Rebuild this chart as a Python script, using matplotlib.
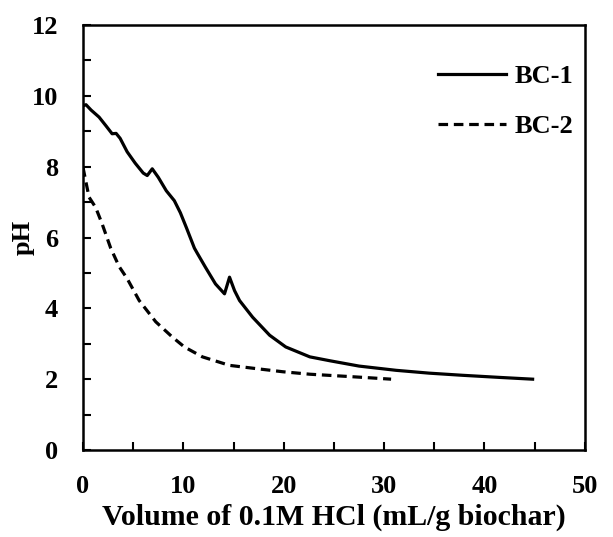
import numpy as np
import matplotlib.pyplot as plt
from matplotlib.ticker import MultipleLocator

# BC-1 titration curve
bc1_vol = [0.0, 0.3, 0.8, 1.6, 2.3, 2.9, 3.3, 3.7, 4.4, 5.2, 6.0, 6.4, 6.9, 7.5, 8.3, 9.1,
           9.7, 10.3, 11.1, 11.4, 12.2, 13.2, 14.1, 14.6, 15.1, 15.6, 16.9, 18.6, 20.2,
           22.6, 24.6, 27.5, 31.2, 34.5, 37.8, 41.5, 44.8]
bc1_ph = [9.72, 9.75, 9.6, 9.4, 9.15, 8.93, 8.94, 8.8, 8.42, 8.1, 7.82, 7.75, 7.94, 7.7,
          7.32, 7.04, 6.7, 6.28, 5.7, 5.55, 5.16, 4.69, 4.41, 4.88, 4.5, 4.22, 3.75, 3.24,
          2.91, 2.63, 2.52, 2.37, 2.25, 2.17, 2.11, 2.05, 2.0]

# BC-2 titration curve
bc2_vol = [0.0, 0.27, 0.6, 1.26, 1.9, 2.76, 3.6, 4.4, 5.6, 7.25, 8.9, 10.1, 11.9, 14.6,
           17.2, 19.9, 22.6, 26.2, 28.5, 30.7]
bc2_ph = [7.98, 7.6, 7.14, 6.85, 6.39, 5.7, 5.18, 4.84, 4.22, 3.62, 3.19, 2.91, 2.63, 2.39,
          2.3, 2.21, 2.14, 2.08, 2.04, 2.0]

plt.rcParams['font.family'] = 'Liberation Serif'
plt.rcParams['font.weight'] = 'bold'

fig = plt.figure(figsize=(6.13, 5.37), dpi=100)
ax = fig.add_axes([0.1354, 0.162, 0.8186, 0.7914])

ax.plot(bc1_vol, bc1_ph, color='black', lw=2.3, label='BC-1')
ax.plot(bc2_vol, bc2_ph, color='black', lw=2.3, dashes=(3.0, 1.8), label='BC-2')

ax.set_xlim(0, 50)
ax.set_ylim(0, 12)
ax.xaxis.set_major_locator(MultipleLocator(10))
ax.xaxis.set_minor_locator(MultipleLocator(5))
ax.yaxis.set_major_locator(MultipleLocator(2))
ax.yaxis.set_minor_locator(MultipleLocator(1))
ax.tick_params(which='both', direction='in', length=6, width=1.5, labelsize=19)
ax.tick_params(axis='x', which='both', top=False, pad=18)
ax.tick_params(axis='y', which='both', right=False, pad=18)
for s in ax.spines.values():
    s.set_linewidth(1.8)

ax.set_xlabel('Volume of 0.1M HCl (mL/g biochar)', fontsize=21.5, fontweight='bold', labelpad=4)
ax.set_ylabel('pH', fontsize=19, fontweight='bold', labelpad=-2.5)

leg = ax.legend(loc='upper right', frameon=False, fontsize=19, handlelength=2.6,
                handletextpad=0.3, labelspacing=1.0, bbox_to_anchor=(1.024, 0.962))

fig.savefig('out.png', dpi=100)
